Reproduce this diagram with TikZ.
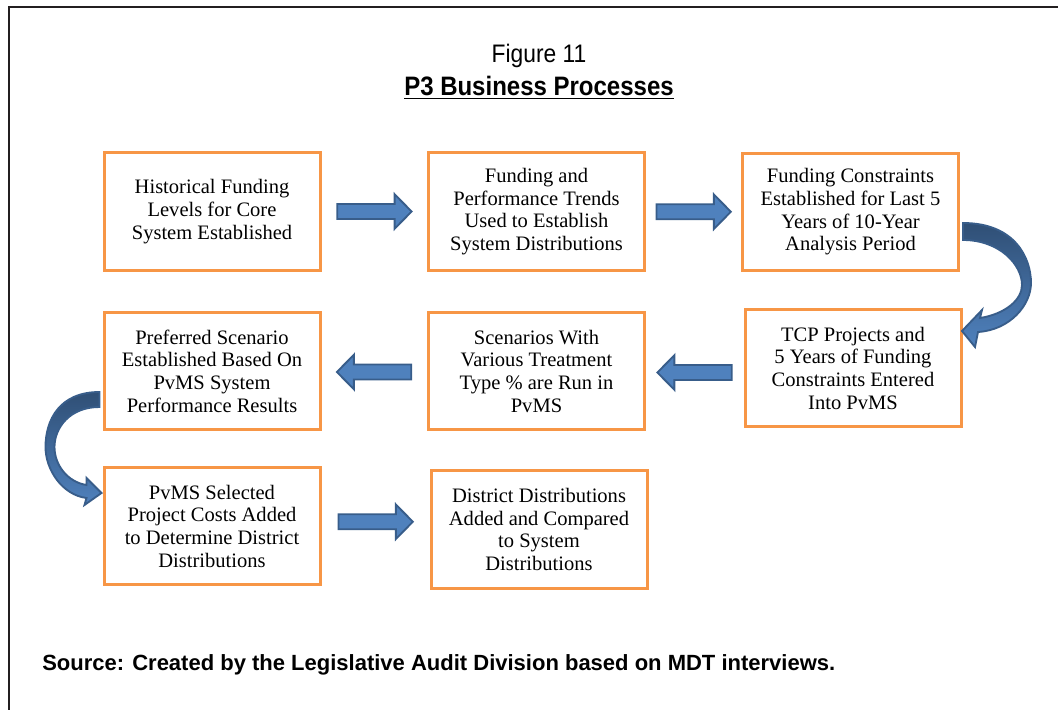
\documentclass[tikz,border=0pt]{standalone}
\usepackage{fontspec}
\setmainfont{Liberation Serif}
\newfontfamily\narrowsans{Liberation Sans}[FakeStretch=0.9]
\newfontfamily\plainsans{Liberation Sans}
\usepackage{xcolor}
\usepackage{tikz}
\usetikzlibrary{calc}
\definecolor{boxorange}{HTML}{F79646}
\definecolor{arrowblue}{HTML}{4F81BD}
\definecolor{arrowedge}{HTML}{385D8A}
\definecolor{framegray}{HTML}{231F20}
\newcommand{\blockarrow}[2]{%
\coordinate (ahead) at ($(#2)!12.75pt!(#1)$);
\filldraw[blockarr] ($(#1)!5.6pt!90:(#2)$) -- ($(ahead)!5.6pt!90:(#2)$) -- ($(ahead)!13pt!90:(#2)$) -- (#2)
  -- ($(ahead)!13pt!-90:(#2)$) -- ($(ahead)!5.6pt!-90:(#2)$) -- ($(#1)!5.6pt!-90:(#2)$) -- cycle;}

\begin{document}
\begin{tikzpicture}[x=0.75pt,y=-0.75pt,
  box/.style={draw=boxorange, line width=2.25pt, minimum width=162pt, minimum height=88pt, inner sep=0pt, align=center,
    font=\fontsize{15.4}{17}\selectfont},
  blockarr/.style={fill=arrowblue, draw=arrowedge, line width=1.4pt, line join=miter},
  curvarr/.style={top color=arrowedge!85!black, bottom color=arrowblue, draw=arrowedge, line width=1.4pt}]
\useasboundingbox (0,0) rectangle (1058,710);
\draw [framegray, line width=2.2pt] (9,712) -- (9,7) -- (1060,7);
\node [anchor=base] (fignum) at (539,63) {\narrowsans\fontsize{19}{22}\selectfont Figure 11};
\node [anchor=base] (figtitle) at (539,96) {\narrowsans\bfseries\fontsize{20}{24}\selectfont\underline{P3 Business Processes}};
\node [box] (hist) at (212,211.5) {Historical Funding\\Levels for Core\\System Established};
\node [box] (trend) at (536.5,211.5) {Funding and\\Performance Trends\\Used to Establish\\System Distributions};
\node [box] (constr) at (850.5,212) {Funding Constraints\\Established for Last 5\\Years of 10-Year\\Analysis Period};
\node [box] (tcp) at (853,368) {TCP Projects and\\5 Years of Funding\\Constraints Entered\\Into PvMS};
\node [box] (scen) at (536.5,371) {Scenarios With\\Various Treatment\\Type \% are Run in\\PvMS};
\node [box] (pref) at (212,371) {Preferred Scenario\\Established Based On\\PvMS System\\Performance Results};
\node [box] (costs) at (212,526) {PvMS Selected\\Project Costs Added\\to Determine District\\Distributions};
\node [box] (dist) at (539,529.5) {District Distributions\\Added and Compared\\to System\\Distributions};
\foreach \a/\b/\dy in {hist/trend/0, trend/constr/0, tcp/scen/3, scen/pref/1, costs/dist/-6}{
  \coordinate (m) at ($(\a.center)!0.5!(\b.center)+(0,\dy)$);
  \coordinate (ma) at (m -| \a.center);
  \coordinate (mb) at (m -| \b.center);
  \coordinate (s) at ($(m)!27.75pt!(ma)$);
  \coordinate (e) at ($(m)!28pt!(mb)$);
  \blockarrow{s}{e}
}
\begin{scope}[shift={(constr.east)}]
\filldraw [curvarr] (3,11) .. controls (55,11) and (71,46) .. (71,71) .. controls (71,93) and (50,118) .. (18,120)
  -- (15,135) -- (2,119) -- (22,98) -- (20,106) .. controls (45,102) and (62,88) .. (62,73)
  .. controls (62,53) and (40,28) .. (3,28) -- cycle;
\end{scope}
\begin{scope}[shift={(pref.west)}]
\filldraw [curvarr] (-3,21) .. controls (-43,21) and (-57,49) .. (-57,76) .. controls (-57,99) and (-40,124) .. (-16,127)
  -- (-18,134) -- (-1,122) -- (-16,107) -- (-16,114) .. controls (-35,111) and (-48,94) .. (-48,76)
  .. controls (-48,57) and (-33,36) .. (-3,36) -- cycle;
\end{scope}
\node [anchor=base west, inner sep=0pt] (source) at (42,670) {\plainsans\bfseries\fontsize{16.5}{19}\selectfont Source: Created by the Legislative Audit Division based on MDT interviews.};
\end{tikzpicture}
\end{document}
